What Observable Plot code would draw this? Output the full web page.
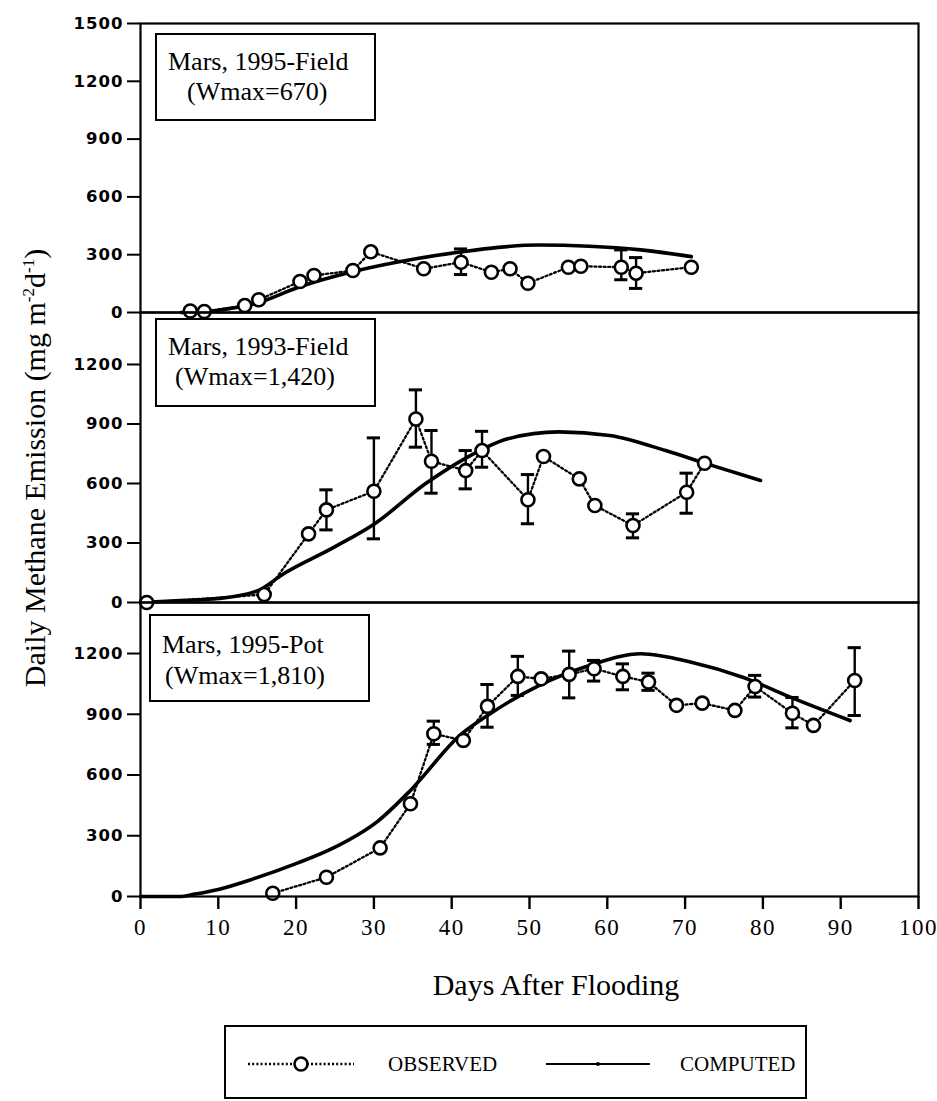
<!DOCTYPE html>
<html><head><meta charset="utf-8">
<script src="https://cdn.jsdelivr.net/npm/d3@7"></script>
<script src="https://cdn.jsdelivr.net/npm/@observablehq/plot@0.6"></script>
<style>
body{margin:0;background:#fff;}
#wrap{position:relative;width:937px;height:1101px;background:#fff;font-family:"Liberation Serif","Times New Roman",serif;color:#000;overflow:hidden;}
#wrap svg{position:absolute;left:0;overflow:visible;background:transparent;}
.box{position:absolute;border:2px solid #000;background:#fff;box-sizing:border-box;}
.box span{position:absolute;white-space:nowrap;font-size:26px;line-height:26px;}
.t{position:absolute;white-space:nowrap;}
</style></head>
<body>
<div id="wrap"></div>
<script>
// ---- Panel 1: Mars, 1995-Field ----
const days1 = [6.4, 8.2, 13.4, 15.2, 20.5, 22.3, 27.3, 29.6, 36.4, 41.2, 45.1, 47.5, 49.8, 55.0, 56.6, 61.8, 63.7, 70.8];
const obs1  = [8, 5, 36, 66, 161, 192, 218, 315, 227, 261, 209, 227, 152, 235, 240, 235, 204, 235];
const errDays1 = [41.2, 61.8, 63.7];
const errLo1   = [197, 170, 125];
const errHi1   = [330, 325, 285];
const compDays1 = [5.2, 8, 10, 15.1, 20.3, 27.5, 35.4, 41.3, 46, 51.1, 57.7, 64.3, 70.8];
const comp1     = [0, 4, 12, 50, 131, 214, 279, 315, 338, 350, 344, 325, 290];

// ---- Panel 2: Mars, 1993-Field ----
const days2 = [0.8, 15.9, 21.6, 23.9, 30.0, 35.4, 37.4, 41.8, 43.9, 49.8, 51.8, 56.4, 58.4, 63.3, 70.2, 72.5];
const obs2  = [0, 40, 346, 467, 561, 925, 712, 665, 766, 518, 736, 623, 489, 388, 556, 702];
const errDays2 = [23.9, 30.0, 35.4, 37.4, 41.8, 43.9, 49.8, 63.3, 70.2];
const errLo2   = [366, 321, 783, 551, 573, 682, 397, 326, 450];
const errHi2   = [568, 830, 1072, 867, 766, 863, 645, 447, 652];
const compDays2 = [0, 5.2, 10, 15.1, 18.4, 24.9, 30.2, 36.7, 42.0, 47.2, 53.8, 60.3, 67.5, 72.8, 79.7];
const comp2     = [0, 10, 20, 60, 145, 279, 400, 601, 732, 825, 860, 842, 766, 699, 615];

// ---- Panel 3: Mars, 1995-Pot ----
const days3 = [17.0, 23.9, 30.8, 34.7, 37.7, 41.5, 44.6, 48.5, 51.5, 55.1, 58.3, 62.0, 65.3, 68.9, 72.2, 76.4, 79.0, 83.8, 86.5, 91.8];
const obs3  = [16, 95, 240, 458, 804, 771, 939, 1087, 1075, 1097, 1125, 1087, 1059, 944, 955, 919, 1037, 905, 845, 1067];
const errDays3 = [37.7, 44.6, 48.5, 55.1, 58.3, 62.0, 65.3, 79.0, 83.8, 91.8];
const errLo3   = [751, 836, 993, 981, 1064, 1021, 1018, 985, 833, 894];
const errHi3   = [866, 1047, 1186, 1212, 1166, 1149, 1103, 1092, 983, 1229];
const compDays3 = [0, 5, 7, 10, 14.5, 19.9, 24.6, 30.6, 34.7, 41.3, 44.6, 51.2, 57.7, 64.3, 70.8, 77.4, 84.0, 91.2];
const comp3     = [0, 0, 12, 35, 87, 161, 236, 375, 524, 804, 894, 1042, 1141, 1199, 1157, 1083, 977, 869];

// ---- Labels ----
const panelTitles = ["Mars, 1995-Field", "Mars, 1993-Field", "Mars, 1995-Pot"];
const panelWmax   = ["(Wmax=670)", "(Wmax=1,420)", "(Wmax=1,810)"];
const yTicksTop   = [0, 300, 600, 900, 1200, 1500];
const yTicks      = [0, 300, 600, 900, 1200];
const xTicks      = [0, 10, 20, 30, 40, 50, 60, 70, 80, 90, 100];
const xTitle = "Days After Flooding";
const legendLabels = ["OBSERVED", "COMPUTED"];

const zip = (xs, ys) => xs.map((x, i) => ({x, y: ys[i]}));
const zipErr = (xs, lo, hi) => xs.map((x, i) => ({x, lo: lo[i], hi: hi[i]}));

const wrap = document.getElementById("wrap");
const W = 937, ML = 140, MR = 19;

function panel({top, height, mt, mb, ymax, ticks, days, obs, eD, eL, eH, cD, cV, xAxis}) {
  const o = zip(days, obs), c = zip(cD, cV), e = zipErr(eD, eL, eH);
  const marks = [
    Plot.axisY({ticks, tickSize: 13, tickPadding: 4, tickFormat: d => String(d), label: null,
      fontFamily: "DejaVu Sans", fontWeight: "bold", fontSize: 16.5, strokeWidth: 2}),
    Plot.line(c, {x: "x", y: "y", stroke: "black", strokeWidth: 3.6, curve: "monotone-x"}),
    Plot.line(o, {x: "x", y: "y", stroke: "black", strokeWidth: 2.3, strokeDasharray: "2 2.6"}),
    Plot.ruleX(e, {x: "x", y1: "lo", y2: "hi", stroke: "black", strokeWidth: 2.4}),
    Plot.ruleY(e, {y: "lo", x1: d => d.x - 0.85, x2: d => d.x + 0.85, stroke: "black", strokeWidth: 3}),
    Plot.ruleY(e, {y: "hi", x1: d => d.x - 0.85, x2: d => d.x + 0.85, stroke: "black", strokeWidth: 3}),
    Plot.dot(o, {x: "x", y: "y", r: 6.5, fill: "white", stroke: "black", strokeWidth: 2.6}),
    Plot.frame({stroke: "black", strokeWidth: 2.2})
  ];
  if (xAxis) marks.push(Plot.axisX({ticks: xTicks, tickSize: 13, tickPadding: 9, label: null,
      fontFamily: "Liberation Serif", fontSize: 23, strokeWidth: 2.4}));
  const svg = Plot.plot({
    width: W, height, marginTop: mt, marginBottom: mb, marginLeft: ML, marginRight: MR,
    x: {domain: [0, 100], axis: null, label: null},
    y: {domain: [0, ymax], axis: null, label: null},
    style: {background: "transparent", overflow: "visible", color: "black"},
    marks
  });
  svg.style.top = top + "px";
  wrap.appendChild(svg);
}

panel({top: 0, height: 312, mt: 23, mb: 0, ymax: 1500, ticks: yTicksTop,
  days: days1, obs: obs1, eD: errDays1, eL: errLo1, eH: errHi1, cD: compDays1, cV: comp1});
panel({top: 312, height: 290, mt: 0, mb: 0, ymax: 1462, ticks: yTicks,
  days: days2, obs: obs2, eD: errDays2, eL: errLo2, eH: errHi2, cD: compDays2, cV: comp2});
panel({top: 602, height: 354, mt: 0, mb: 60, ymax: 1452, ticks: yTicks,
  days: days3, obs: obs3, eD: errDays3, eL: errLo3, eH: errHi3, cD: compDays3, cV: comp3, xAxis: true});

wrap.querySelectorAll('g[aria-label="x-axis tick label"] text').forEach(t => t.setAttribute("letter-spacing", "1.5"));
wrap.querySelectorAll('g[aria-label="y-axis tick label"] text').forEach(t => t.setAttribute("letter-spacing", "1"));

// annotation boxes
const boxes = [
  {l: 155, t: 33, w: 221, h: 88, x1: 11, y1: 14, x2: 30, y2: 44},
  {l: 155, t: 318, w: 221, h: 89, x1: 11, y1: 14, x2: 18, y2: 44},
  {l: 149, t: 614, w: 221, h: 88, x1: 11, y1: 16, x2: 14, y2: 47}
];
boxes.forEach((b, i) => {
  const d = document.createElement("div");
  d.className = "box";
  Object.assign(d.style, {left: b.l + "px", top: b.t + "px", width: b.w + "px", height: b.h + "px"});
  d.innerHTML = `<span style="left:${b.x1}px;top:${b.y1}px">${panelTitles[i]}</span>` +
                `<span style="left:${b.x2}px;top:${b.y2}px">${panelWmax[i]}</span>`;
  wrap.appendChild(d);
});

// y title
const yt = document.createElement("div");
yt.className = "t";
Object.assign(yt.style, {left: (35 - 350) + "px", top: (468 - 20) + "px", width: "700px", height: "40px",
  lineHeight: "40px", textAlign: "center", fontSize: "30px", transform: "rotate(-90deg)", transformOrigin: "350px 20px"});
yt.innerHTML = 'Daily Methane Emission (mg m<span style="font-size:17px;position:relative;top:-11px">-2</span>d<span style="font-size:17px;position:relative;top:-11px">-1</span>)';
wrap.appendChild(yt);

// x title
const xt = document.createElement("div");
xt.className = "t";
Object.assign(xt.style, {left: (556 - 300) + "px", top: (985 - 20) + "px", width: "600px", lineHeight: "40px",
  textAlign: "center", fontSize: "30px"});
xt.textContent = xTitle;
wrap.appendChild(xt);

// legend
const lg = document.createElement("div");
lg.className = "box";
Object.assign(lg.style, {left: "224px", top: "1025px", width: "583px", height: "74px", background: "transparent"});
lg.innerHTML = `
<svg width="579" height="70" style="position:absolute;left:0;top:0;overflow:visible">
  <line x1="22" x2="128" y1="37" y2="37" stroke="black" stroke-width="2.3" stroke-dasharray="2 2.2"/>
  <circle cx="75" cy="37" r="6.5" fill="white" stroke="black" stroke-width="2.6"/>
  <line x1="320" x2="424" y1="37" y2="37" stroke="black" stroke-width="2.2"/>
  <circle cx="372" cy="37" r="2" fill="black"/>
</svg>
<span class="t" style="left:162px;top:24px;font-size:21px;line-height:26px">${legendLabels[0]}</span>
<span class="t" style="left:454px;top:24px;font-size:21px;line-height:26px">${legendLabels[1]}</span>`;
wrap.appendChild(lg);
</script>
</body></html>
